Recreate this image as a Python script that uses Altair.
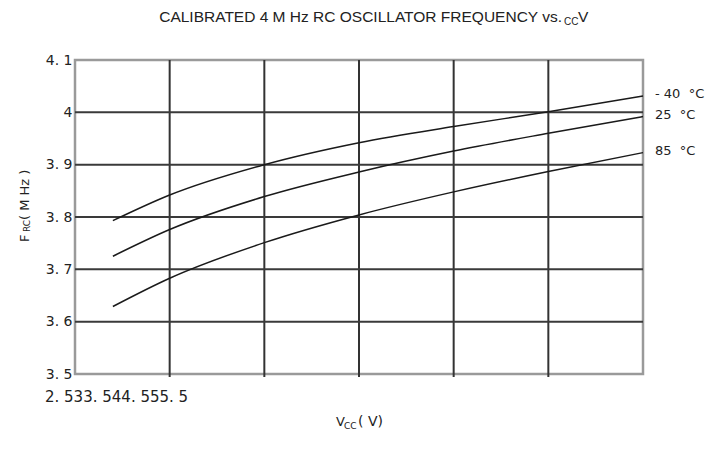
import altair as alt
import pandas as pd

# ---- data ----
vcc = [2.7, 3.0, 3.5, 4.0, 4.5, 5.0, 5.5]
f_m40 = [3.793, 3.842, 3.900, 3.942, 3.973, 4.001, 4.031]
f_25 = [3.725, 3.776, 3.839, 3.886, 3.926, 3.960, 3.992]
f_85 = [3.629, 3.683, 3.751, 3.804, 3.848, 3.887, 3.923]
series_names = ["-40", "25", "85"]
series_labels = ["-\u00a040\u00a0\u00a0°C", "25\u00a0\u00a0°C", "85\u00a0\u00a0°C"]

x_ticks = [2.5, 3.0, 3.5, 4.0, 4.5, 5.0, 5.5]
x_tick_labels = ["2. 5", "3", "3. 5", "4", "4. 5", "5", "5. 5"]
y_ticks = [3.5, 3.6, 3.7, 3.8, 3.9, 4.0, 4.1]
y_tick_labels = ["3. 5", "3. 6", "3. 7", "3. 8", "3. 9", "4", "4. 1"]

title_main = "CALIBRATED 4 M Hz RC OSCILLATOR FREQUENCY vs."
title_sub = "CC"
title_end = "V"

# ---- tables ----
rows = []
for name, vals in zip(series_names, [f_m40, f_25, f_85]):
    for v, f in zip(vcc, vals):
        rows.append({"series": name, "vcc": v, "f": f})
curves = pd.DataFrame(rows)

ends = pd.DataFrame({
    "label": series_labels,
    "vcc": [vcc[-1]] * 3,
    "f": [f_m40[-1], f_25[-1], f_85[-1]],
})

xgrid = pd.DataFrame({"v": x_ticks[1:-1]})
ygrid = pd.DataFrame({"v": y_ticks[1:-1]})
xtick_df = pd.DataFrame({"v": x_ticks[1:-1]})

xs = alt.Scale(domain=[x_ticks[0], x_ticks[-1]], nice=False, zero=False)
ys = alt.Scale(domain=[y_ticks[0], y_ticks[-1]], nice=False, zero=False)

expr = "''"
for val, lab in zip(y_ticks, y_tick_labels):
    expr = f"abs(datum.value - {val}) < 0.001 ? '{lab}' : ({expr})"

y_axis = alt.Axis(values=y_ticks, labelExpr=expr, grid=False, domain=False, ticks=False,
                  labelFont="DejaVu Sans", labelFontSize=14, labelColor="#222",
                  labelPadding=3, title=None)

W, H = 568, 314
FONT = "DejaVu Sans"

gx = alt.Chart(xgrid).mark_rule(color="#333", strokeWidth=2).encode(
    x=alt.X("v:Q", scale=xs, axis=None),
    y=alt.value(0), y2=alt.value(H + 3))
gy = alt.Chart(ygrid).mark_rule(color="#3a3a3a", strokeWidth=2).encode(
    y=alt.Y("v:Q", scale=ys, axis=y_axis))

lines = alt.Chart(curves).mark_line(color="#1a1a1a", strokeWidth=1.5, interpolate="monotone").encode(
    x=alt.X("vcc:Q", scale=xs, axis=None),
    y=alt.Y("f:Q", scale=ys, axis=y_axis),
    detail="series:N",
)

lab = alt.Chart(ends).mark_text(align="left", baseline="middle", dx=12, dy=-2,
                                font=FONT, fontSize=13, color="#222").encode(
    x=alt.X("vcc:Q", scale=xs, axis=None),
    y=alt.Y("f:Q", scale=ys, axis=y_axis),
    text="label:N",
)

def txt(s, x, y, size, align="left", baseline="alphabetic", angle=0, font=FONT):
    kw = dict(align=align, baseline=baseline, font=font, fontSize=size, color="#222")
    if angle:
        kw["angle"] = angle
    return alt.Chart(pd.DataFrame({"t": [s]})).mark_text(**kw).encode(
        x=alt.value(x), y=alt.value(y), text="t:N")

texts = [
    txt(title_main, 487, -38, 15.5, align="right", font="Liberation Sans"),
    txt(title_sub, 489, -35, 10, font="Liberation Sans"),
    txt(title_end, 503, -38, 15.5, font="Liberation Sans"),
    # x tick labels as they appear in the reference (run together)
    txt("".join(x_tick_labels), -30, 337, 15, baseline="middle"),
    # x title
    txt("V", 261, 366, 13),
    txt("CC", 269, 369, 9),
    txt("(\u00a0V)", 283, 366, 14),
    # y title (rotated)
    txt("F", -46, 182, 13, angle=270),
    txt("RC", -45, 172, 9, angle=270),
    txt("(\u00a0M\u00a0Hz\u00a0)", -46, 160, 13, angle=270),
]

chart = alt.layer(gx, gy, lines, lab, *texts).properties(
    width=W, height=H,
    autosize=alt.AutoSizeParams(type="none"),
    padding={"left": 67, "top": 52, "right": 69, "bottom": 67},
).configure_view(stroke="#9a9a9a", strokeWidth=2.5)

chart.save("out.html", embed_options={"renderer": "svg", "actions": False})
